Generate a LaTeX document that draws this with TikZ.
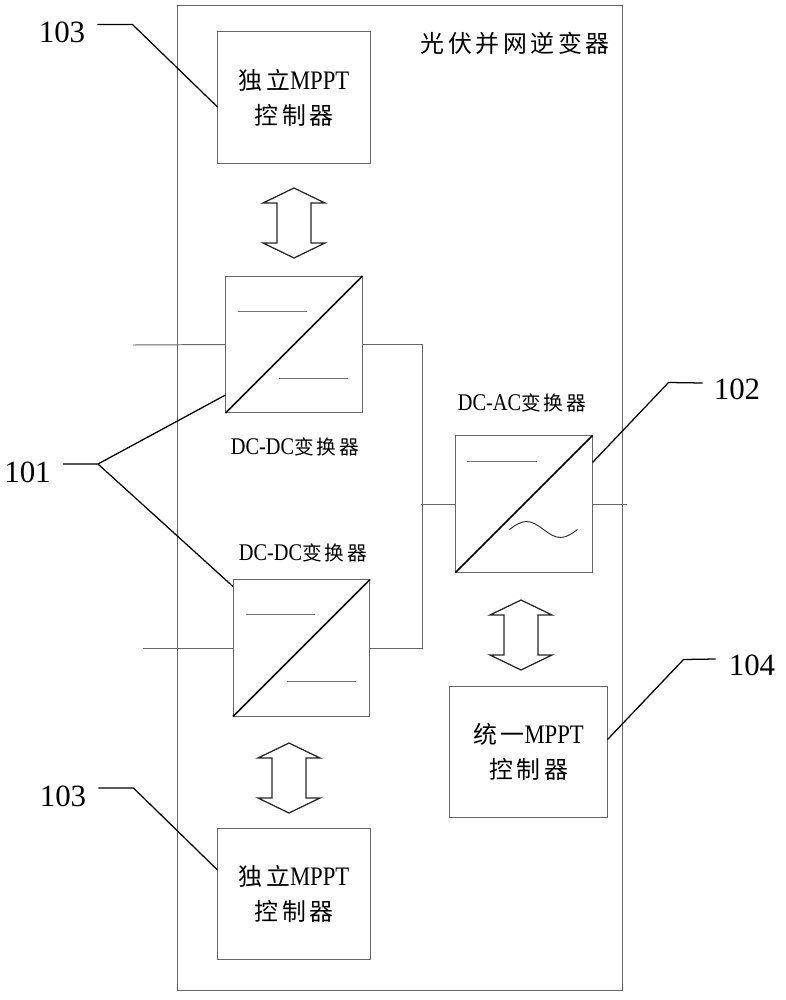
\documentclass[tikz,border=0pt]{standalone}
\usepackage{fontspec}
\usetikzlibrary{positioning,calc}
\setmainfont{Liberation Serif}
\newfontfamily\cjkfont[LetterSpace=15]{Noto Sans CJK SC}
\newfontfamily\latfont[FakeStretch=0.85]{Liberation Serif}
\newcommand\zh[1]{{\cjkfont #1}}
\newcommand\en[1]{{\latfont\fontsize{19pt}{25pt}\selectfont #1}}
\newcommand\ens[1]{{\latfont\fontsize{17pt}{25pt}\selectfont #1}}

\tikzset{
	box/.style={draw=black!60, line width=0.7pt, inner sep=0pt, align=center,
		font=\fontsize{17pt}{25pt}\selectfont},
	ctrl/.style={box, minimum width=3.8cm, minimum height=3.275cm},
	conv/.style={box, minimum width=3.4cm, minimum height=3.4cm},
	convname/.style={inner sep=0pt, font=\fontsize{14pt}{18pt}\selectfont},
	num/.style={inner sep=0pt, font=\fontsize{22pt}{26pt}\selectfont},
	wire/.style={draw=black!60, line width=0.7pt},
	bar/.style={draw=black!55, line width=0.7pt},
	diag/.style={draw=black, line width=1.1pt},
	lead/.style={draw=black, line width=0.9pt},
	blk/.style={draw=black!85, line width=0.9pt, fill=white}
}

\begin{document}
\begin{tikzpicture}[x=0.025cm, y=-0.025cm]
	\useasboundingbox (0,0) rectangle (785,1000);

	\node[box, minimum width=11.1cm, minimum height=24.6cm] (inv) at (400,498) {};
	\node[inner sep=0pt, font=\fontsize{17pt}{20pt}\selectfont] (title) at (515,43) {\zh{光伏并网逆变器}};

	\node[ctrl] (mp1) at (294,97.5) {\zh{独立}\en{MPPT}\\\zh{控制器}};
	\node[conv] (dd1) at (294,344.5) {};
	\node[conv] (dd2) at (301.5,648) {};
	\node[conv] (da) at (524,504) {};
	\node[ctrl, minimum width=3.925cm] (ump) at (528.5,751.5) {\zh{统一}\en{MPPT}\\\zh{控制器}};
	\node[ctrl] (mp2) at (294,893.5) {\zh{独立}\en{MPPT}\\\zh{控制器}};

	\node[convname] (c1) at (295,447) {\ens{DC-DC}\zh{变换器}};
	\node[convname] (c2) at (303,553) {\ens{DC-DC}\zh{变换器}};
	\node[convname] (c3) at (522,403) {\ens{DC-AC}\zh{变换器}};

	\foreach \n in {dd1,dd2} {
		\draw[bar] ($(\n.north west)+(13,35)$) -- ++(69,0);
		\draw[bar] ($(\n.north west)+(54,102)$) -- ++(69,0);
	}
	\draw[bar] ($(da.north west)+(12,26)$) -- ++(70,0);
	\draw[bar, draw=black!80] ($(da.north west)+(54,94)$) sin ++(17,-8) cos ++(17,8) sin ++(17,8) cos ++(17,-8);
	\foreach \n in {dd1,dd2,da}
		\draw[diag] (\n.south west) -- (\n.north east);

	\coordinate (in1) at (133,345);
	\coordinate (in2) at (143,648);
	\coordinate (out) at (627,504);
	\draw[wire] (in1) -- (dd1.west);
	\draw[wire] (in2) -- (dd2.west);
	\draw[wire] (dd1.east) -- ++(60,0) |- (dd2.east);
	\draw[wire] (da.west) -- ++(-34,0);
	\draw[wire] (da.east) -- (out);

	\foreach \x/\y in {294/188, 521/600, 289/743}
		\draw[blk] (\x,\y) -- ++(31,15) -- ++(-14,0) -- ++(0,40) -- ++(14,0) -- ++(-31,15)
			-- ++(-31,-15) -- ++(14,0) -- ++(0,-40) -- ++(-14,0) -- cycle;

	\node[num] (l103a) at (62,32.5) {103};
	\node[num] (l101) at (27.5,472) {101};
	\node[num] (l102) at (737,389) {102};
	\node[num] (l104) at (752,665) {104};
	\node[num] (l103b) at (63,796) {103};

	\draw[lead] ([shift={(12,-8)}]l103a.east) -- ++(35,0) -- ($(mp1.west)+(0,9.5)$);
	\draw[lead] ([shift={(12,-8)}]l101.east) -- ++(35,0) coordinate (br) -- ($(dd1.south west)+(0,-18)$);
	\draw[lead] (br) -- ($(dd2.north west)+(0,7)$);
	\draw[lead] ($(da.north east)+(0,27)$) -- ++(76,-80) -- ([shift={(-11,-6)}]l102.west);
	\draw[lead] ($(ump.east)+(0,-12)$) -- ++(76,-80) -- ([shift={(-13,-6)}]l104.west);
	\draw[lead] ([shift={(12,-8)}]l103b.east) -- ++(35,0) -- ($(mp2.west)+(0,-23.5)$);
\end{tikzpicture}
\end{document}
